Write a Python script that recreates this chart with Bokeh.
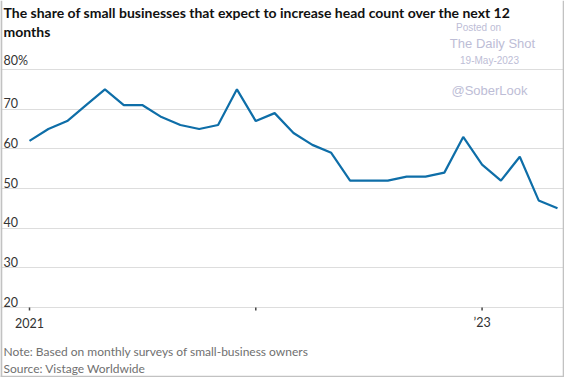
from bokeh.plotting import figure
from bokeh.models import Label, FixedTicker, Range1d, ColumnDataSource, Span
from bokeh.core.properties import value
from bokeh.embed import file_html
from bokeh.resources import INLINE

# ---- data ----
month_index = list(range(29))  # 0 = Jan 2021 ... 28 = May 2023
share_pct = [62, 65, 67, 71, 75, 71, 71, 68, 66, 65, 66, 75,
             67, 69, 64, 61, 59, 52, 52, 52, 53, 53, 54, 63,
             56, 52, 58, 47, 45]
y_ticks = [20, 30, 40, 50, 60, 70, 80]
y_tick_labels = ["20", "30", "40", "50", "60", "70", "80%"]
x_ticks = [0, 12, 24]
x_tick_labels = ["2021", "", "\u201923"]

title_line1 = "The share of small businesses that expect to increase head count over the next 12"
title_line2 = "months"
note_text = "Note: Based on monthly surveys of small-business owners"
source_text = "Source: Vistage Worldwide"

FONT = "Lato"
WM = "'Liberation Sans'"
WM_COLOR = "#bdbdd6"

W, H = 564, 377
PX_Y = 3.967      # px per percentage point
PX_X = 18.857     # px per month
X0 = -29 / PX_X
X1 = 28 + 7 / PX_X
Y0 = 20 - (H - 307) / PX_Y
Y1 = 80 + 69 / PX_Y

p = figure(width=W, height=H, output_backend="svg", toolbar_location=None,
           x_range=Range1d(X0, X1), y_range=Range1d(Y0, Y1),
           min_border_left=0, min_border_right=0, min_border_top=0,
           min_border_bottom=0)
p.outline_line_color = None
p.background_fill_color = "white"
p.border_fill_color = "white"
p.xaxis.visible = False
p.yaxis.visible = False
p.xgrid.grid_line_color = None
p.ygrid.ticker = FixedTicker(ticks=y_ticks)
p.ygrid.grid_line_color = "#dddddd"
p.ygrid.grid_line_width = 1

# y tick labels above the gridlines at the left edge
ysrc = ColumnDataSource(dict(x=[X0] * len(y_ticks), y=y_ticks, t=y_tick_labels))
p.text(x="x", y="y", text="t", source=ysrc, text_align="left", text_baseline="bottom",
       x_offset=3, y_offset=-1, text_font=value(FONT), text_font_size="12.5px",
       text_color="#333333")

# x ticks and labels
tick_len = 3 / PX_Y
p.segment(x0=x_ticks, y0=[20] * 3, x1=x_ticks, y1=[20 - tick_len] * 3,
          line_color="#444444", line_width=1.5)
xsrc = ColumnDataSource(dict(x=x_ticks, y=[20] * 3, t=x_tick_labels))
p.text(x="x", y="y", text="t", source=xsrc, text_align="center", text_baseline="middle",
       y_offset=15, text_font=value(FONT), text_font_size="12.5px", text_color="#333333")

p.line(month_index, share_pct, line_color="#0e6ea8", line_width=2.2)

# image frame (left, right, bottom)
for loc, dim in [(X0 + 0.8 / PX_X, "height"), (X1 - 0.8 / PX_X, "height"),
                 (Y0 + 0.8 / PX_Y, "width")]:
    p.add_layout(Span(location=loc, dimension=dim, line_color="#c2c2c2", line_width=2))

def lab(text, x, y, size, color, font, style="normal", align="left"):
    p.add_layout(Label(x=x, y=H - y, x_units="screen", y_units="screen", text=text,
                       text_font=font, text_font_size=size, text_color=color,
                       text_font_style=style, text_align=align, text_baseline="middle"))

# titles
lab(title_line1, 3, 12, "14px", "#111111", FONT, "bold")
lab(title_line2, 3, 31, "14px", "#111111", FONT, "bold")

# watermark
lab("Posted on", 478, 27, "10px", WM_COLOR, WM, align="center")
lab("The Daily Shot", 492, 43, "13px", WM_COLOR, WM, align="center")
lab("19-May-2023", 489, 60, "10px", WM_COLOR, WM, align="center")
lab("@SoberLook", 489, 90, "13px", WM_COLOR, WM, align="center")

# footer
lab(note_text, 3, 351, "12px", "#707070", FONT)
lab(source_text, 3, 368, "12px", "#707070", FONT)

open("out.html", "w").write(file_html(p, INLINE))
